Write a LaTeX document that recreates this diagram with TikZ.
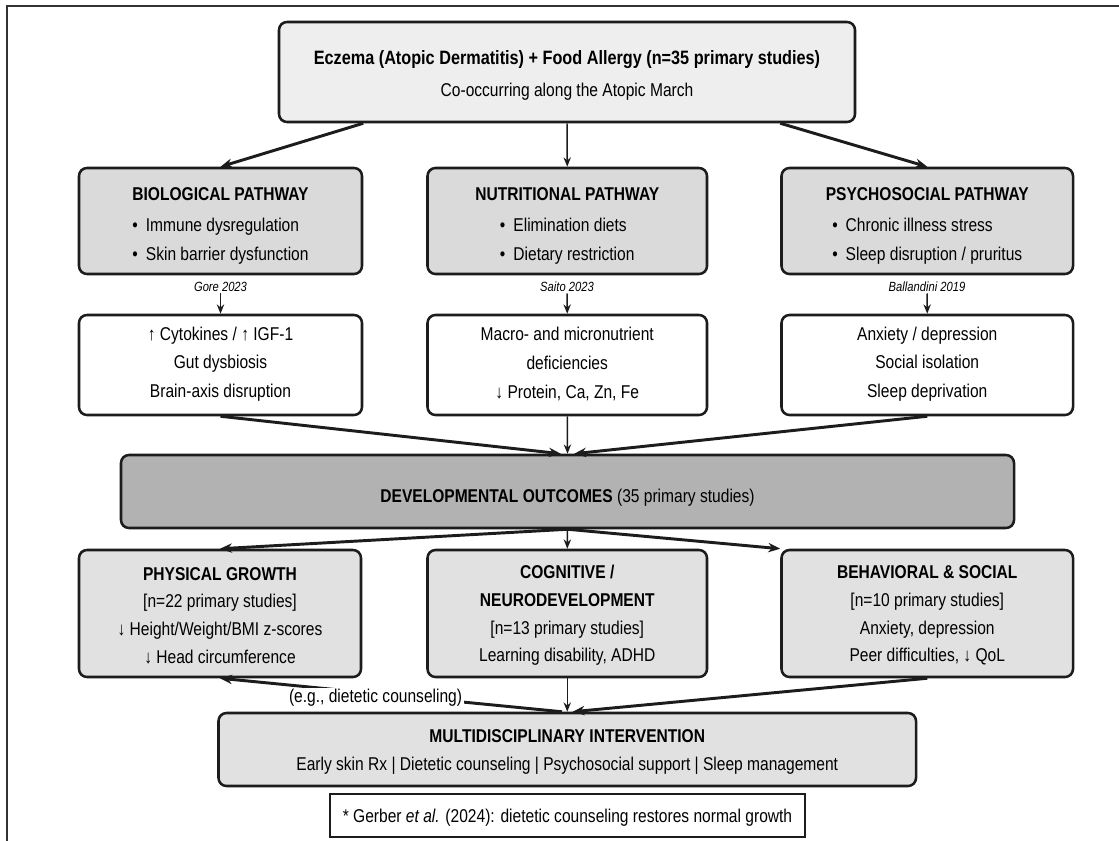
\documentclass[tikz,border=0pt]{standalone}
\usepackage{fontspec}
\setmainfont{Liberation Sans}[FakeStretch=0.84]
\usetikzlibrary{arrows.meta,fit,calc}
\definecolor{bordc}{RGB}{28,28,28}
\definecolor{framec}{RGB}{50,50,50}
\definecolor{topc}{RGB}{238,238,238}
\definecolor{pathc}{RGB}{218,218,218}
\definecolor{devc}{RGB}{178,178,178}
\definecolor{outc}{RGB}{225,225,225}
\newlength\bwA \newlength\bwB
\newcommand\blist[3]{\settowidth{\bwA}{\textbullet\hspace{6pt}#2}\settowidth{\bwB}{\textbullet\hspace{6pt}#3}\ifdim\bwB>\bwA\global\bwA=\bwB\else\global\bwA=\bwA\fi{\bfseries #1}\\[2pt]\makebox[\bwA][l]{\textbullet\hspace{6pt}#2}\\\makebox[\bwA][l]{\textbullet\hspace{6pt}#3}}
\tikzset{
 boxbase/.style={draw=bordc, line width=1.9pt, rounded corners=6pt, inner sep=0pt},
 topbox/.style={boxbase, fill=topc},
 pathbox/.style={boxbase, fill=pathc},
 whitebox/.style={boxbase, fill=white},
 devbox/.style={boxbase, fill=devc},
 outbox/.style={boxbase, fill=outc},
 notebox/.style={draw=bordc, line width=1.4pt, fill=white, inner sep=0pt},
 txt/.style={align=center, inner sep=0pt},
 cite/.style={font=\fontsize{10}{12}\selectfont\itshape, inner sep=1pt},
 bigarrow/.style={draw=bordc, line width=2.2pt, -{Stealth[length=9pt,width=7pt]}},
 thinarrow/.style={draw=bordc, line width=1.1pt, -{Stealth[length=7pt,width=5.5pt]}},
}
\begin{document}
\begin{tikzpicture}[x=0.75pt,y=-0.75pt,font=\fontsize{13.9}{21.4}\selectfont]
\useasboundingbox (0,0) rectangle (1119,841);
\fill[white] (0,0) rectangle (1119,841);
\draw[framec, line width=1.5pt] (6.5,841) -- (6.5,6) -- (1119,6);

% boxes
\node[topbox, fit={(279,22) (855,122)}] (top) {};
\node[pathbox, fit={(79,168) (362,274)}] (bio) {};
\node[pathbox, fit={(427.5,168) (707,274)}] (nut) {};
\node[pathbox, fit={(781.5,168) (1073,274)}] (psy) {};
\node[whitebox, fit={(79,315) (362,415)}] (bioW) {};
\node[whitebox, fit={(427.5,315) (707,415)}] (nutW) {};
\node[whitebox, fit={(781.5,315) (1073,415)}] (psyW) {};
\node[devbox, fit={(121,455) (1014,528)}] (dev) {};
\node[outbox, fit={(79,550) (361,677)}] (phys) {};
\node[outbox, fit={(427.5,550) (707,677)}] (cog) {};
\node[outbox, fit={(781.5,550) (1073,677)}] (beh) {};
\node[outbox, fit={(218.5,713) (916,786)}] (multi) {};
\node[notebox, fit={(330,794) (805,837)}] (note) {};

% texts
\node[txt] (topT) at ($(top.center)+(0,3.5)$) {{\fontsize{14.5}{21.4}\selectfont\bfseries Eczema (Atopic Dermatitis) + Food Allergy (n=35 primary studies)}\\[2pt] Co-occurring along the Atopic March};
\node[txt] (bioT) at ($(bio.center)+(0,5)$) {\blist{BIOLOGICAL PATHWAY}{Immune dysregulation}{Skin barrier dysfunction}};
\node[txt] (nutT) at ($(nut.center)+(0,5)$) {\blist{NUTRITIONAL PATHWAY}{Elimination diets}{Dietary restriction}};
\node[txt] (psyT) at ($(psy.center)+(0,5)$) {\blist{PSYCHOSOCIAL PATHWAY}{Chronic illness stress}{Sleep disruption / pruritus}};

\node[cite] (c1) at (220.5,287) {Gore 2023};
\node[cite] (c2) at (567,287) {Saito 2023};
\node[cite] (c3) at (927,287) {Ballandini 2019};

\node[txt] (bioWT) at ($(bioW.center)+(0,-1)$) {↑ Cytokines / ↑ IGF-1\\ Gut dysbiosis\\ Brain-axis disruption};
\node[txt] (nutWT) at ($(nutW.center)+(0,-1)$) {Macro- and micronutrient\\ deficiencies\\ ↓ Protein, Ca, Zn, Fe};
\node[txt] (psyWT) at ($(psyW.center)+(0,-1)$) {Anxiety / depression\\ Social isolation\\ Sleep deprivation};

\node[txt] (devT) at ($(dev.center)+(0,6)$) {{\bfseries DEVELOPMENTAL OUTCOMES} (35 primary studies)};

\node[txt, font=\fontsize{13.9}{20.8}\selectfont] (physT) at ($(phys.center)+(0,2)$) {{\bfseries PHYSICAL GROWTH}\\ {[n=22 primary studies]}\\ ↓ Height/Weight/BMI z-scores\\ ↓ Head circumference};
\node[txt, font=\fontsize{13.9}{20.8}\selectfont] (cogT) at ($(cog.center)+(0,2)$) {{\bfseries COGNITIVE /}\\ {\bfseries NEURODEVELOPMENT}\\ {[n=13 primary studies]}\\ Learning disability, ADHD};
\node[txt, font=\fontsize{13.9}{20.8}\selectfont] (behT) at ($(beh.center)+(0,2)$) {{\bfseries BEHAVIORAL \& SOCIAL}\\ {[n=10 primary studies]}\\ Anxiety, depression\\ Peer difficulties, ↓ QoL};

\node[txt, font=\fontsize{13.9}{20.3}\selectfont] (multiT) at ($(multi.center)+(0,2.5)$) {{\bfseries MULTIDISCIPLINARY INTERVENTION}\\ Early skin Rx | Dietetic counseling | Psychosocial support | Sleep management};

\node[txt] (noteT) at ($(note.center)+(0,2)$) {* Gerber \textit{et al.} (2024): dietetic counseling restores normal growth};

% arrows top -> pathways
\draw[bigarrow] (top.south -| bio.north east) -- (bio.north);
\draw[thinarrow] (top.south) -- (nut.north);
\draw[bigarrow] (top.south -| psy.north west) -- (psy.north);

% citations
\draw[thinarrow] (c1.south) -- (bioW.north);
\draw[thinarrow] (c2.south) -- (nutW.north);
\draw[thinarrow] (c3.south) -- (psyW.north);

% to dev
\draw[bigarrow] (bioW.south) -- ([xshift=-5pt]dev.north);
\draw[thinarrow] (nutW.south) -- (dev.north);
\draw[bigarrow] (psyW.south) -- ([xshift=5pt]dev.north);

% dev to outcomes
\draw[bigarrow] (dev.south) -- (phys.north);
\draw[thinarrow] (dev.south) -- (cog.north);
\draw[bigarrow] (dev.south) -- (beh.north west);

% outcomes to multi
\draw[thinarrow] (cog.south) -- (multi.north);
\draw[bigarrow] (beh.south) -- ([xshift=4pt]multi.north);
\draw[bigarrow] ([xshift=-4pt]multi.north) -- node[pos=0.545, fill=white, inner sep=1.5pt, yshift=-3.5pt] (eg) {(e.g., dietetic counseling)} (phys.south);
\end{tikzpicture}
\end{document}
